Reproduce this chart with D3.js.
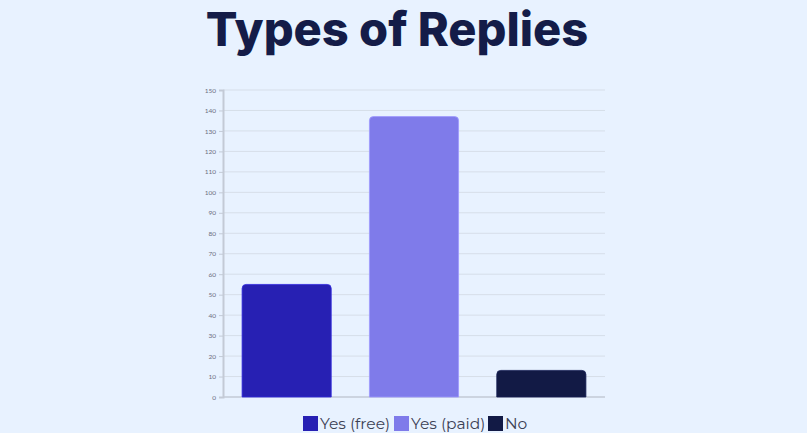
<!DOCTYPE html>
<html><head><meta charset="utf-8">
<script src="https://cdn.jsdelivr.net/npm/d3@7"></script>
<style>
html,body{margin:0;padding:0;background:#e8f2ff;}
svg{display:block;}
</style></head>
<body>
<svg id="chart" width="807" height="433"></svg>
<script>
const categories = ["Yes (free)", "Yes (paid)", "No"];
const values = [55, 137, 13];
const colors = ["#2720b3", "#7f7bea", "#121a45"];
const yTicks = [0,10,20,30,40,50,60,70,80,90,100,110,120,130,140,150];
const title = "Types of Replies";

const svg = d3.select("#chart");
svg.append("rect").attr("width",807).attr("height",433).attr("fill","#e8f2ff");

const m = {left:223, right:605, top:90, bottom:397};
const x = d3.scaleBand().domain(categories).range([m.left, m.right]).paddingInner(0.3).paddingOuter(0.15);
const y = d3.scaleLinear().domain([0,150]).range([m.bottom, m.top]);

svg.append("text").attr("x",397).attr("y",46).attr("text-anchor","middle")
  .attr("font-family","Inter, 'Open Sans', sans-serif").attr("font-weight",800)
  .attr("font-size",47).attr("fill","#141c48").attr("letter-spacing","0").text(title);

// grid
svg.append("g").selectAll("line").data(yTicks.filter(d=>d>0)).join("line")
  .attr("x1",m.left).attr("x2",m.right).attr("y1",d=>y(d)).attr("y2",d=>y(d))
  .attr("stroke","#d6dee9").attr("stroke-width",1);

// y axis
const ya = svg.append("g").attr("transform",`translate(${m.left},0)`)
  .call(d3.axisLeft(y).tickValues(yTicks).tickSize(4).tickPadding(3));
ya.select(".domain").attr("stroke","#c3cad6").attr("stroke-width",2);
ya.selectAll(".tick line").attr("stroke","#c3cad6");
ya.selectAll(".tick text").attr("font-family","Lato, sans-serif").attr("font-size",6.5).attr("fill","#6b7080");

// x axis line
svg.append("line").attr("x1",m.left).attr("x2",m.right).attr("y1",y(0)).attr("y2",y(0))
  .attr("stroke","#c3cad6").attr("stroke-width",1.5);

// bars with top-rounded corners
const r = 4;
svg.append("g").selectAll("path").data(categories).join("path")
  .attr("d",(c,i)=>{
    const x0 = x(c), w = x.bandwidth(), yt = y(values[i]), yb = y(0);
    return `M${x0},${yb} V${yt+r} Q${x0},${yt} ${x0+r},${yt} H${x0+w-r} Q${x0+w},${yt} ${x0+w},${yt+r} V${yb} Z`;
  })
  .attr("fill",(c,i)=>colors[i])
  .attr("stroke",(c,i)=>d3.color(colors[i]).brighter(0.6))
  .attr("stroke-width",0.8);

// legend
const lg = svg.append("g").attr("font-family","Montserrat, 'Open Sans', sans-serif").attr("font-size",15.5).attr("fill","#3c4154");
const legendX = [303, 394, 488];
categories.forEach((c,i)=>{
  lg.append("rect").attr("x",legendX[i]).attr("y",416).attr("width",15).attr("height",15).attr("fill",colors[i]);
  lg.append("text").attr("x",legendX[i]+17).attr("y",429).text(c);
});
</script>
</body></html>
